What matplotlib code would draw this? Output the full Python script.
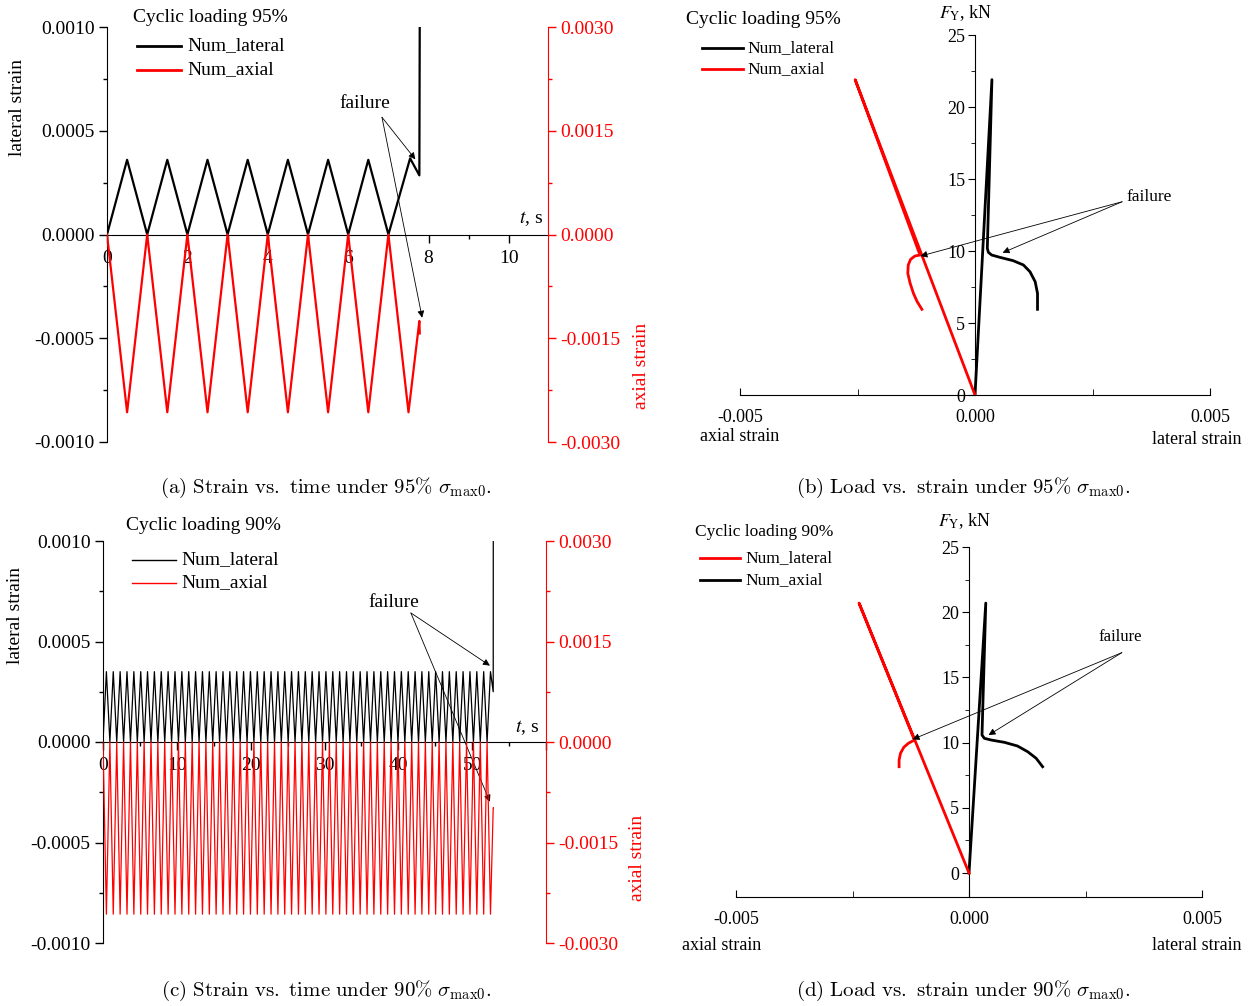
import matplotlib
matplotlib.use("Agg")
import matplotlib.pyplot as plt
from matplotlib.lines import Line2D
from matplotlib.ticker import FuncFormatter, MultipleLocator, FixedLocator

plt.rcParams['font.family'] = ['Liberation Serif', 'DejaVu Serif']
plt.rcParams['mathtext.fontset'] = 'stix'

W, H = 1251, 1006

# ---- (a) 95 %, strain vs time ----
t_lat_a = [0, 0.5, 1, 1.5, 2, 2.5, 3, 3.5, 4, 4.5, 5, 5.5, 6, 6.5, 7, 7.54, 7.77, 7.78]
lat_a = [0, 0.00036, 0, 0.00036, 0, 0.00036, 0, 0.00036, 0, 0.00036, 0, 0.00036,
         0, 0.00036, 0, 0.000367, 0.000285, 0.00105]
t_ax_a = [0, 0.5, 1, 1.5, 2, 2.5, 3, 3.5, 4, 4.5, 5, 5.5, 6, 6.5, 7, 7.5, 7.77, 7.78]
ax_a = [0, -0.00257, 0, -0.00257, 0, -0.00257, 0, -0.00257, 0, -0.00257, 0, -0.00257,
        0, -0.00257, 0, -0.00257, -0.00125, -0.00143]

# ---- (c) 90 %, strain vs time ----
valley_t_c = [0.00, 0.93, 1.86, 2.79, 3.72, 4.65, 5.57, 6.50, 7.43, 8.36,
              9.29, 10.22, 11.15, 12.08, 13.01, 13.94, 14.86, 15.79, 16.72, 17.65,
              18.58, 19.51, 20.44, 21.37, 22.30, 23.23, 24.15, 25.08, 26.01, 26.94,
              27.87, 28.80, 29.73, 30.66, 31.59, 32.52, 33.44, 34.37, 35.30, 36.23,
              37.16, 38.09, 39.02, 39.95, 40.88, 41.81, 42.73, 43.66, 44.59, 45.52,
              46.45, 47.38, 48.31, 49.24, 50.17, 51.10, 52.02]
peak_t_c = [0.46, 1.39, 2.32, 3.25, 4.18, 5.11, 6.03, 6.96, 7.89, 8.82,
            9.75, 10.68, 11.61, 12.54, 13.47, 14.40, 15.32, 16.25, 17.18, 18.11,
            19.04, 19.97, 20.90, 21.83, 22.76, 23.69, 24.61, 25.54, 26.47, 27.40,
            28.33, 29.26, 30.19, 31.12, 32.05, 32.98, 33.90, 34.83, 35.76, 36.69,
            37.62, 38.55, 39.48, 40.41, 41.34, 42.27, 43.19, 44.12, 45.05, 45.98,
            46.91, 47.84, 48.77, 49.70, 50.63, 51.56, 52.48]
lat_peak_c = 0.00035
ax_trough_c = -0.00257
t_end_c = [52.85, 52.86]
lat_end_c = [0.00025, 0.00105]
ax_end_c = [-0.00098, -0.00098]

# ---- (b) 95 %, load vs strain ----
lat_x_b = [0, 0.00036, 0.000262, 0.000284, 0.000355, 0.00053, 0.00081, 0.00103,
           0.00117, 0.00128, 0.00133, 0.00133]
lat_f_b = [0, 21.9, 10.19, 9.91, 9.72, 9.56, 9.33, 9.03, 8.56, 7.87, 7.06, 5.95]
ax_x_b = [0, -0.00255, -0.00117, -0.00128, -0.00137, -0.00142, -0.00143, -0.00138,
          -0.00131, -0.00123, -0.00113]
ax_f_b = [0, 21.9, 9.72, 9.65, 9.42, 9.03, 8.45, 7.76, 7.06, 6.48, 5.95]

# ---- (d) 90 %, load vs strain ----
blk_x_d = [0, 0.00036, 0.000279, 0.000329, 0.000472, 0.00076, 0.00104, 0.00126,
           0.00144, 0.00158]
blk_f_d = [0, 20.7, 10.58, 10.33, 10.2, 10.02, 9.74, 9.3, 8.8, 8.15]
red_x_d = [0, -0.00236, -0.00117, -0.0013, -0.0014, -0.00147, -0.0015, -0.0015]
red_f_d = [0, 20.7, 10.2, 9.95, 9.64, 9.18, 8.67, 8.15]

fig = plt.figure(figsize=(W / 100, H / 100), dpi=100)


def px_axes(l, t, r, b):
    return fig.add_axes([l / W, 1 - b / H, (r - l) / W, (b - t) / H])


def ftext(x, y, s, **kw):
    kw.setdefault('ha', 'center')
    kw.setdefault('va', 'center')
    return fig.text(x / W, 1 - y / H, s, **kw)


def legend_block(x0, x1, y_title, ys, labels, colors, lw, fs_title, fs_leg, xt_title, xt_leg):
    ftext(xt_title, y_title, "Cyclic loading " + labels[0], ha='left', fontsize=fs_title)
    for y, lab, c in zip(ys, labels[1:], colors):
        fig.add_artist(Line2D([x0 / W, x1 / W], [1 - y / H, 1 - y / H], color=c, lw=lw,
                              transform=fig.transFigure))
        ftext(xt_leg, y, lab, ha='left', fontsize=fs_leg)


def fmt(n):
    return FuncFormatter(lambda v, p: ("%." + str(n) + "f") % (0.0 if abs(v) < 1e-12 else v))


def caption(letter, kind, pct, x, y):
    s = (r"$\mathrm{(" + letter + r")\ " + kind + r"\ under\ " + pct +
         r"\%\ }\sigma_{\mathrm{max0}}\mathrm{.}$")
    ftext(x, y, s, fontsize=15, math_fontfamily='cm')


arrow = dict(arrowstyle='-|>', color='black', lw=0.6, mutation_scale=10, shrinkA=0, shrinkB=0)


def time_panel(box, xmax, xmaj, xmin, t_lat, lat, t_ax, axv, lw, ann, tpos):
    ax = px_axes(*box)
    ax.set_xlim(0, xmax)
    ax.set_ylim(-0.001, 0.001)
    for s in ['top', 'right']:
        ax.spines[s].set_visible(False)
    ax.spines['bottom'].set_position(('data', 0))
    ax.xaxis.set_major_locator(MultipleLocator(xmaj))
    ax.xaxis.set_minor_locator(MultipleLocator(xmin))
    ax.yaxis.set_major_locator(MultipleLocator(0.0005))
    ax.yaxis.set_minor_locator(MultipleLocator(0.00025))
    ax.yaxis.set_major_formatter(fmt(4))
    ax.xaxis.set_major_formatter(FuncFormatter(lambda v, p: "%d" % round(v) if v <= xmax - 0.5 else ""))
    ax.tick_params(which='both', direction='out', labelsize=14, width=1)
    ax.tick_params(which='major', length=6, pad=3)
    ax.tick_params(which='minor', length=3)
    ax.tick_params(axis='x', pad=5)
    ax.plot(t_lat, lat, color='black', lw=lw, zorder=3)

    ax2 = ax.twinx()
    ax2.set_ylim(-0.003, 0.003)
    for s in ['top', 'left', 'bottom']:
        ax2.spines[s].set_visible(False)
    ax2.spines['right'].set_color('red')
    ax2.yaxis.set_major_locator(MultipleLocator(0.0015))
    ax2.yaxis.set_minor_locator(MultipleLocator(0.00075))
    ax2.yaxis.set_major_formatter(fmt(4))
    ax2.tick_params(which='both', direction='out', labelsize=14, colors='red', width=1)
    ax2.tick_params(which='major', length=6, pad=3)
    ax2.tick_params(which='minor', length=3)
    ax2.plot(t_ax, axv, color='red', lw=lw, zorder=2)

    (tx, ty), (sx, sy), tip1, tip2 = ann
    ax.text(tx, ty, "failure", fontsize=14, ha='center', va='center')
    ax.annotate("", xy=tip1, xytext=(sx, sy), arrowprops=arrow)
    ax.annotate("", xy=tip2, xytext=(sx, sy), arrowprops=arrow)
    ftext(tpos[0], tpos[1], r"$t$, s", fontsize=14)
    return ax, ax2


def load_panel(box, ylo, xl, fl, xr, fr, col_l, col_r, ann, fsize, fy_pos, labs_y):
    ax = px_axes(*box)
    ax.set_xlim(-0.005, 0.005)
    ax.set_ylim(ylo, 25)
    for s in ['top', 'right']:
        ax.spines[s].set_visible(False)
    ax.spines['left'].set_position(('data', 0))
    ax.spines['left'].set_bounds(ylo, 25)
    ax.xaxis.set_major_locator(FixedLocator([-0.005, 0, 0.005]))
    ax.xaxis.set_minor_locator(FixedLocator([-0.0025, 0.0025]))
    ax.xaxis.set_major_formatter(fmt(3))
    ax.yaxis.set_major_locator(FixedLocator([0, 5, 10, 15, 20, 25]))
    ax.yaxis.set_minor_locator(FixedLocator([2.5, 7.5, 12.5, 17.5, 22.5]))
    ax.yaxis.set_major_formatter(FuncFormatter(lambda v, p: "%d" % v))
    ax.tick_params(axis='x', which='both', direction='in', labelsize=13, pad=10)
    ax.tick_params(axis='x', which='major', length=5)
    ax.tick_params(axis='x', which='minor', length=4)
    ax.tick_params(axis='y', which='both', direction='out', labelsize=13, pad=2)
    ax.tick_params(axis='y', which='major', length=5)
    ax.tick_params(axis='y', which='minor', length=3)
    ax.plot(xl, fl, color=col_l, lw=2, zorder=3, solid_joinstyle='round')
    ax.plot(xr, fr, color=col_r, lw=2, zorder=3, solid_joinstyle='round')

    (tx, ty), (sx, sy), tip1, tip2 = ann
    ax.text(tx, ty, "failure", fontsize=fsize, ha='center', va='center')
    ax.annotate("", xy=tip1, xytext=(sx, sy), arrowprops=arrow)
    ax.annotate("", xy=tip2, xytext=(sx, sy), arrowprops=arrow)
    ftext(fy_pos[0], fy_pos[1], r"$F_{\mathrm{Y}}$, kN", fontsize=13)
    ftext(labs_y[0], labs_y[2], "axial strain", fontsize=13)
    ftext(labs_y[1], labs_y[3], "lateral strain", fontsize=13)
    return ax


# panel (a)
time_panel((107, 27, 548, 442), 10.97, 2, 1, t_lat_a, lat_a, t_ax_a, ax_a, 1.6,
           ((6.42, 0.000633), (6.84, 0.000565), (7.67, 0.000362), (7.84, -0.000401)),
           (531, 219))
ftext(18, 107, "lateral strain", rotation=90, fontsize=14)
ftext(642, 366, "axial strain", rotation=90, fontsize=14, color='red')
caption("a", r"Strain\ vs.\ time", "95", 326, 488)

# panel (c)
t_lat_c, lat_c, ax_c = [], [], []
for v, p in zip(valley_t_c, peak_t_c):
    t_lat_c += [v, p]
    lat_c += [0, lat_peak_c]
    ax_c += [0, ax_trough_c]
t_lat_c += t_end_c
lat_c += lat_end_c
ax_c += ax_end_c
time_panel((103, 541, 546, 943), 60, 10, 5, t_lat_c, lat_c, t_lat_c, ax_c, 0.9,
           ((39.4, 0.000692), (41.7, 0.000642), (52.4, 0.00038), (52.4, -0.000297)),
           (527, 728))
ftext(16, 616, "lateral strain", rotation=90, fontsize=14)
ftext(637, 858, "axial strain", rotation=90, fontsize=14, color='red')
caption("c", r"Strain\ vs.\ time", "90", 326, 991)

# panel (b)
load_panel((740, 35, 1210, 395), 0, lat_x_b, lat_f_b, ax_x_b, ax_f_b, 'black', 'red',
           ((0.0037, 13.75), (0.00313, 13.42), (-0.00116, 9.65), (0.000587, 9.88)), 12.5,
           (966, 13), (740, 1197, 437, 439))
caption("b", r"Load\ vs.\ strain", "95", 963, 488)

# panel (d)
load_panel((736, 547, 1202, 897), -1.84, blk_x_d, blk_f_d, red_x_d, red_f_d, 'black', 'red',
           ((0.00325, 18.1), (0.00328, 16.9), (-0.00121, 10.25), (0.00042, 10.58)), 12,
           (965, 521), (722, 1197, 945, 946))
caption("d", r"Load\ vs.\ strain", "90", 963, 991)

legend_block(137, 181, 17, [46, 70], ["95%", "Num_lateral", "Num_axial"], ['black', 'red'],
             2, 14, 14, 133, 187)
legend_block(702, 743, 19, [48, 69], ["95%", "Num_lateral", "Num_axial"], ['black', 'red'],
             2, 14, 12.5, 686, 747)
legend_block(132, 176, 525, [560, 583], ["90%", "Num_lateral", "Num_axial"], ['black', 'red'],
             1, 14, 14, 126, 181)
legend_block(700, 740, 532, [558, 580], ["90%", "Num_lateral", "Num_axial"], ['red', 'black'],
             2, 12.5, 12.5, 695, 745)

fig.savefig("out.png", dpi=100)
